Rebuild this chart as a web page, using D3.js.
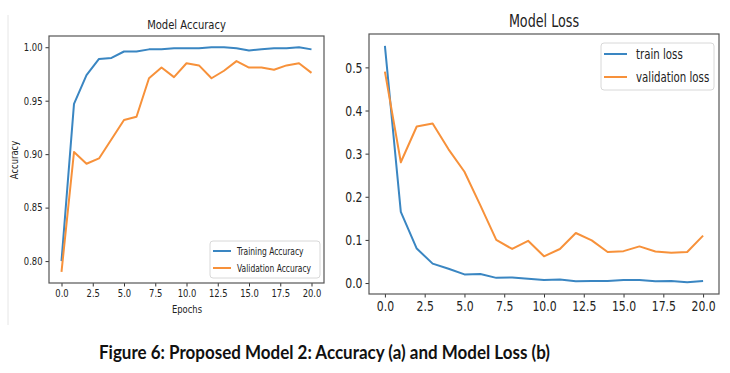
<!DOCTYPE html>
<html>
<head>
<meta charset="utf-8">
<script src="https://cdn.jsdelivr.net/npm/d3@7"></script>
<style>
  body { margin: 0; background: #fff; }
  svg { display: block; }
  text { font-family: "DejaVu Sans", sans-serif; fill: #222; }
  text.caption { font-family: Lato, "Open Sans", sans-serif; font-weight: bold; fill: #111; }
</style>
</head>
<body>
<script>
// epochs 0..20
const epochs = d3.range(0, 21);

const trainAcc = [0.800, 0.947, 0.974, 0.989, 0.990, 0.996, 0.996, 0.998, 0.998, 0.999, 0.999,
                  0.999, 1.000, 1.000, 0.999, 0.997, 0.998, 0.999, 0.999, 1.000, 0.998];
const valAcc   = [0.790, 0.902, 0.891, 0.896, 0.914, 0.932, 0.935, 0.971, 0.981, 0.972, 0.985,
                  0.983, 0.971, 0.978, 0.987, 0.981, 0.981, 0.979, 0.983, 0.985, 0.976];

const trainLoss = [0.550, 0.165, 0.080, 0.045, 0.033, 0.020, 0.021, 0.012, 0.013, 0.010, 0.007,
                   0.008, 0.004, 0.005, 0.005, 0.007, 0.007, 0.004, 0.005, 0.002, 0.005];
const valLoss   = [0.490, 0.280, 0.363, 0.370, 0.310, 0.258, 0.180, 0.100, 0.079, 0.098, 0.062,
                   0.079, 0.116, 0.099, 0.072, 0.074, 0.085, 0.073, 0.070, 0.072, 0.110];

const xTicks = [0, 2.5, 5, 7.5, 10, 12.5, 15, 17.5, 20];
const accTicks = [0.80, 0.85, 0.90, 0.95, 1.00];
const lossTicks = [0.0, 0.1, 0.2, 0.3, 0.4, 0.5];

const blue = "#3a86c2";
const orange = "#f7913a";

const width = 730, height = 373;

let svg = d3.select("body").append("svg")
    .attr("width", width)
    .attr("height", height);

svg.append("rect").attr("width", width).attr("height", height).attr("fill", "white");

// faint border of the pasted figure
svg.append("line")
    .attr("x1", 8).attr("x2", 8).attr("y1", 15).attr("y2", 325)
    .attr("stroke", "#e6e6e6");

// the screenshot is squeezed sideways, so text is narrowed
function narrowText(parent, x, y, k, str, size, anchor, rot) {
    return parent.append("text")
        .attr("transform", `translate(${x},${y})` + (rot ? ` rotate(${rot})` : "") + ` scale(${k},1)`)
        .attr("text-anchor", anchor || "start")
        .attr("font-size", size)
        .text(str);
}

function panel(opts) {
    let x = d3.scaleLinear().domain([-1, 21]).range([opts.left, opts.right]);
    let y = d3.scaleLinear().domain(opts.yDomain).range([opts.bottom, opts.top]);
    let k = opts.squeeze;

    let g = svg.append("g");

    g.append("g")
        .attr("transform", `translate(0,${opts.bottom})`)
        .call(d3.axisBottom(x).tickValues(xTicks).tickSize(3.5).tickPadding(3).tickFormat(d3.format(".1f")))
        .call(a => a.select(".domain").remove())
        .call(a => a.selectAll("line").attr("stroke", "#333"))
        .call(a => a.selectAll("text").attr("font-size", opts.tickSize)
            .attr("transform", `scale(${k},1)`));

    g.append("g")
        .attr("transform", `translate(${opts.left},0)`)
        .call(d3.axisLeft(y).tickValues(opts.yTicks).tickSize(3.5).tickPadding(3).tickFormat(d3.format(opts.yFormat)))
        .call(a => a.select(".domain").remove())
        .call(a => a.selectAll("line").attr("stroke", "#333"))
        .call(a => a.selectAll("text").attr("font-size", opts.tickSize)
            .attr("x", -6.5 / k)
            .attr("transform", `scale(${k},1)`));

    let line = d3.line().x((d, i) => x(epochs[i])).y(d => y(d));

    opts.series.forEach(s => {
        g.append("path")
            .datum(s.values)
            .attr("fill", "none")
            .attr("stroke", s.color)
            .attr("stroke-width", 2)
            .attr("stroke-linejoin", "round")
            .attr("d", line);
    });

    g.append("rect")
        .attr("x", opts.left).attr("y", opts.top)
        .attr("width", opts.right - opts.left).attr("height", opts.bottom - opts.top)
        .attr("fill", "none").attr("stroke", "#555").attr("stroke-width", 1.2);

    narrowText(g, (opts.left + opts.right) / 2, opts.top - 7, k, opts.title, opts.titleSize, "middle");

    // legend
    let L = opts.legend;
    let lg = g.append("g").attr("transform", `translate(${L.x},${L.y})`);
    lg.append("rect")
        .attr("width", L.w).attr("height", L.h)
        .attr("rx", 3)
        .attr("fill", "white").attr("stroke", "#d8d8d8");
    opts.series.forEach((s, i) => {
        let yy = L.pad + i * L.step;
        lg.append("line")
            .attr("x1", L.x1).attr("x2", L.x1 + L.lineW)
            .attr("y1", yy).attr("y2", yy)
            .attr("stroke", s.color).attr("stroke-width", 2);
        narrowText(lg, L.tx, yy, L.k, s.name, L.fs)
            .attr("dy", "0.35em");
    });
    return { x, y };
}

panel({
    left: 49, right: 324, top: 36, bottom: 283,
    yDomain: [0.7795, 1.0105],
    yTicks: accTicks, yFormat: ".2f",
    tickSize: 10.5, titleSize: 12.5, squeeze: 0.8,
    title: "Model Accuracy",
    series: [
        { name: "Training Accuracy", values: trainAcc, color: blue },
        { name: "Validation Accuracy", values: valAcc, color: orange }
    ],
    legend: { x: 210, y: 241, w: 110, h: 37, pad: 10, step: 17, x1: 3, lineW: 18, tx: 27, k: 0.72, fs: 10.5 }
});

panel({
    left: 369, right: 719, top: 34, bottom: 294,
    yDomain: [-0.0254, 0.5774],
    yTicks: lossTicks, yFormat: ".1f",
    tickSize: 14.5, titleSize: 17, squeeze: 0.75,
    title: "Model Loss",
    series: [
        { name: "train loss", values: trainLoss, color: blue },
        { name: "validation loss", values: valLoss, color: orange }
    ],
    legend: { x: 601, y: 43, w: 113, h: 47, pad: 11, step: 23, x1: 3, lineW: 23, tx: 35, k: 0.73, fs: 14 }
});

// axis labels of the accuracy panel
narrowText(svg, 18, 160, 0.8, "Accuracy", 10.5, "middle", -90);
narrowText(svg, 187, 313, 0.8, "Epochs", 10.5, "middle");

// figure caption
svg.append("text")
    .attr("class", "caption")
    .attr("x", 99).attr("y", 359)
    .attr("font-size", 18)
    .attr("textLength", 451)
    .attr("lengthAdjust", "spacingAndGlyphs")
    .text("Figure 6: Proposed Model 2: Accuracy (a) and Model Loss (b)");
</script>
</body>
</html>
